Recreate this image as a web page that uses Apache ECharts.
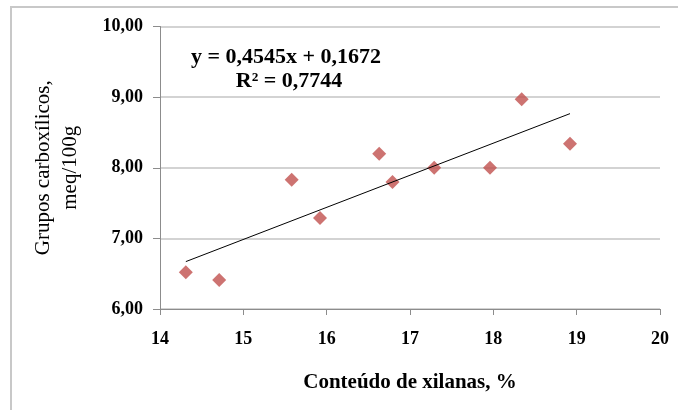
<!DOCTYPE html>
<html><head><meta charset="utf-8">
<script src="https://cdn.jsdelivr.net/npm/echarts@6/dist/echarts.min.js"></script>
<style>html,body{margin:0;padding:0;background:#fff}#c{width:678px;height:410px}</style>
</head><body><div id="c"></div>
<script>
const xilanas = [14.31, 14.71, 15.58, 15.92, 16.63, 16.79, 17.29, 17.96, 18.34, 18.92];
const carboxilicos = [6.52, 6.41, 7.83, 7.29, 8.20, 7.80, 8.00, 8.00, 8.97, 8.34];
const trendSlope = 0.4545;
const trendIntercept = 0.1672;
const equationText = 'y = 0,4545x + 0,1672';
const r2Text = 'R² = 0,7744';
const xTitle = 'Conteúdo de xilanas, %';
const yTitle = 'Grupos carboxílicos,\nmeq/100g';

const pts = xilanas.map((x, i) => [x, carboxilicos[i]]);
const xMin = Math.min(...xilanas), xMax = Math.max(...xilanas);
const trend = [[xMin, trendSlope * xMin + trendIntercept], [xMax, trendSlope * xMax + trendIntercept]];

const serif = '"Liberation Serif", "Times New Roman", serif';
const chart = echarts.init(document.getElementById('c'));
chart.setOption({
  animation: false,
  backgroundColor: '#fff',
  grid: {left: 160, right: 18, top: 26.5, bottom: 101},
  graphic: [
    {type: 'rect', shape: {x: 11, y: 7, width: 700, height: 450}, style: {fill: 'none', stroke: '#c8c8c8', lineWidth: 2}, silent: true, z: -1},
    {type: 'text', style: {text: equationText, x: 286, y: 57, align: 'center', verticalAlign: 'middle', font: 'bold 22px ' + serif, fill: '#000'}},
    {type: 'text', style: {text: r2Text, x: 289, y: 81, align: 'center', verticalAlign: 'middle', font: 'bold 22px ' + serif, fill: '#000'}}
  ],
  xAxis: {
    type: 'value', min: 14, max: 20, interval: 1,
    name: xTitle, nameLocation: 'middle', nameGap: 63,
    nameTextStyle: {fontFamily: serif, fontWeight: 'bold', fontSize: 21, color: '#000'},
    axisLine: {lineStyle: {color: '#8c8c8c'}},
    axisTick: {show: true, length: 6, lineStyle: {color: '#8c8c8c'}},
    axisLabel: {fontFamily: serif, fontWeight: 'bold', fontSize: 18, color: '#000', margin: 21},
    splitLine: {show: false}
  },
  yAxis: {
    type: 'value', min: 6, max: 10, interval: 1,
    name: yTitle, nameLocation: 'middle', nameGap: 76, nameRotate: 90,
    nameTextStyle: {fontFamily: serif, fontSize: 21, color: '#000', lineHeight: 27},
    axisLine: {show: true, lineStyle: {color: '#8c8c8c'}},
    axisTick: {show: true, length: 7, lineStyle: {color: '#8c8c8c'}},
    axisLabel: {fontFamily: serif, fontWeight: 'bold', fontSize: 18, color: '#000', margin: 17,
      formatter: v => v.toFixed(2).replace('.', ',')},
    splitLine: {show: true, lineStyle: {color: '#c4c4c4', width: 1.5}}
  },
  series: [
    {type: 'scatter', data: pts, symbol: 'diamond', symbolSize: 14,
      itemStyle: {color: '#c0504d'}, z: 3},
    {type: 'line', data: trend, symbol: 'none', lineStyle: {color: '#000', width: 1}, z: 4}
  ]
});
</script></body></html>
